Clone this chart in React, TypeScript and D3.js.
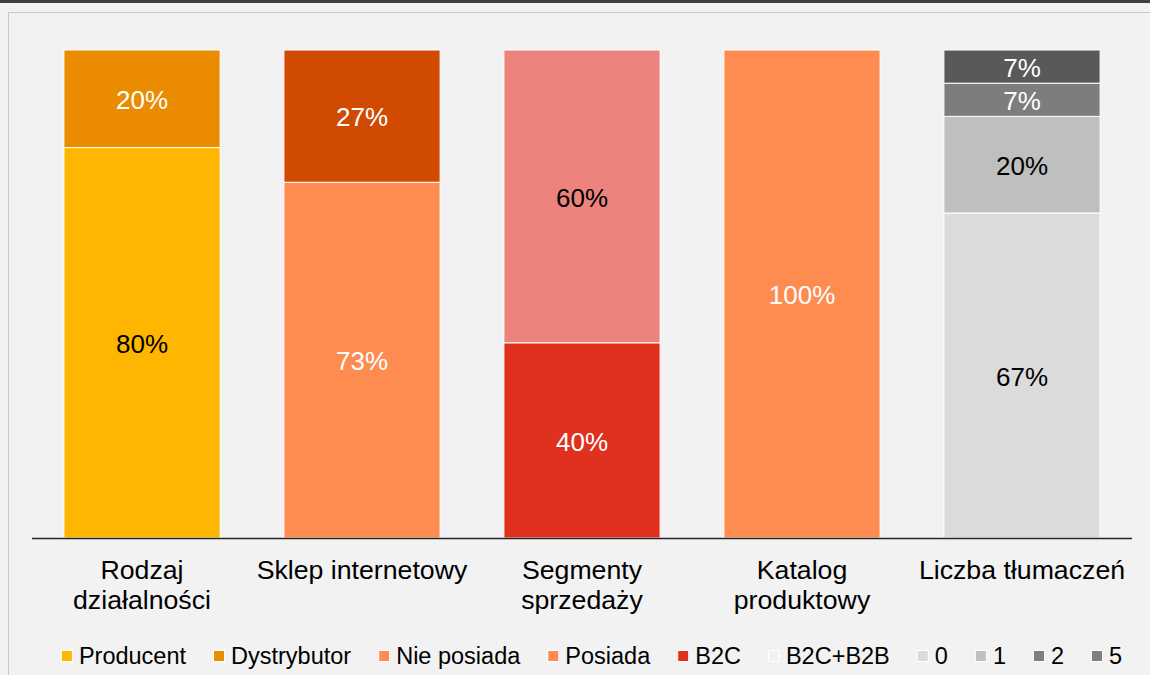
import { useEffect, useRef } from "react";
import * as d3 from "d3";

const categories = [
  ["Rodzaj", "działalności"],
  ["Sklep internetowy"],
  ["Segmenty", "sprzedaży"],
  ["Katalog", "produktowy"],
  ["Liczba tłumaczeń"],
];

// segments of each column, bottom to top
const rodzaj = [
  { name: "Producent", value: 80, color: "#FFB600", text: "#000" },
  { name: "Dystrybutor", value: 20, color: "#EB8C00", text: "#fff" },
];
const sklep = [
  { name: "Nie posiada", value: 72.9, color: "#FE8C50", text: "#fff" },
  { name: "Posiada", value: 27.1, color: "#D04A02", text: "#fff" },
];
const segmenty = [
  { name: "B2C", value: 40, color: "#E0301E", text: "#fff" },
  { name: "B2C+B2B", value: 60, color: "#EC837D", text: "#000" },
];
const katalog = [{ name: "Posiada", value: 100, color: "#FE8C50", text: "#fff" }];
const tlumaczenia = [
  { name: "0", value: 66.6, color: "#DBDBDB", text: "#000" },
  { name: "1", value: 19.8, color: "#BFBFBF", text: "#000" },
  { name: "2", value: 6.8, color: "#7D7D7D", text: "#fff" },
  { name: "5", value: 6.8, color: "#595959", text: "#fff" },
];
const columns = [rodzaj, sklep, segmenty, katalog, tlumaczenia];

const legendItems = [
  { name: "Producent", color: "#FFB600" },
  { name: "Dystrybutor", color: "#EB8C00" },
  { name: "Nie posiada", color: "#FE8C50" },
  { name: "Posiada", color: "#FE8C50" },
  { name: "B2C", color: "#E0301E" },
  { name: "B2C+B2B", color: "#F2F2F2" },
  { name: "0", color: "#DBDBDB" },
  { name: "1", color: "#BFBFBF" },
  { name: "2", color: "#7F7F7F" },
  { name: "5", color: "#7F7F7F" },
];

const FONT = "'Liberation Sans', Arial, sans-serif";

export default function App() {
  const svgRef = useRef<SVGSVGElement | null>(null);
  const width = 1150;
  const height = 675;

  useEffect(() => {
    if (!svgRef.current) return;
    const svg = d3.select(svgRef.current);
    svg.selectAll("*").remove();

    // background + frame
    svg.append("rect").attr("width", width).attr("height", height).attr("fill", "#F2F2F2");
    svg.append("rect").attr("width", width).attr("height", 3).attr("fill", "#404040");
    svg
      .append("rect")
      .attr("x", 8.5)
      .attr("y", 12.5)
      .attr("width", width + 20)
      .attr("height", height)
      .attr("fill", "none")
      .attr("stroke", "#C8C8C8");

    const labels = categories.map((c) => c.join(" "));
    const x = d3
      .scaleBand()
      .domain(labels)
      .range([32, 1132])
      .paddingInner(0.29)
      .paddingOuter(0.145);
    const y = d3.scaleLinear().domain([0, 100]).range([538, 50]);

    const g = svg.append("g");
    columns.forEach((segs, i) => {
      const x0 = x(labels[i]) || 0;
      let acc = 0;
      segs.forEach((s) => {
        const y0 = y(acc);
        const y1 = y(acc + s.value);
        acc += s.value;
        g.append("rect")
          .attr("x", x0)
          .attr("y", y1)
          .attr("width", x.bandwidth())
          .attr("height", y0 - y1)
          .attr("fill", s.color)
          .attr("stroke", "#fff")
          .attr("stroke-width", 1);
        g.append("text")
          .attr("x", x0 + x.bandwidth() / 2)
          .attr("y", (y0 + y1) / 2 + 1)
          .attr("dy", "0.35em")
          .attr("text-anchor", "middle")
          .attr("font-family", FONT)
          .attr("font-size", 26)
          .attr("fill", s.text)
          .text(`${Math.round(s.value)}%`);
      });
    });

    // baseline
    svg
      .append("line")
      .attr("x1", 32)
      .attr("x2", 1132)
      .attr("y1", 538.5)
      .attr("y2", 538.5)
      .attr("stroke", "#262626")
      .attr("stroke-width", 1.5);

    // category labels
    categories.forEach((lines, i) => {
      const cxl = (x(labels[i]) || 0) + x.bandwidth() / 2;
      const t = svg
        .append("text")
        .attr("x", cxl)
        .attr("y", 579)
        .attr("text-anchor", "middle")
        .attr("font-family", FONT)
        .attr("font-size", 26.7)
        .attr("fill", "#000");
      lines.forEach((l, j) => {
        t.append("tspan")
          .attr("x", cxl)
          .attr("dy", j === 0 ? 0 : 29.5)
          .text(l);
      });
    });

    // legend
    const gap = 27;
    const leg = svg.append("g");
    let cx = 0;
    legendItems.forEach((d) => {
      const item = leg.append("g").attr("transform", `translate(${cx},0)`);
      item
        .append("rect")
        .attr("x", 0.5)
        .attr("y", -5.5)
        .attr("width", 11)
        .attr("height", 11)
        .attr("fill", d.color)
        .attr("stroke", "#fff")
        .attr("stroke-width", 1);
      const t = item
        .append("text")
        .attr("x", 18)
        .attr("y", 0)
        .attr("dy", "0.35em")
        .attr("font-family", FONT)
        .attr("font-size", 23.5)
        .attr("fill", "#000")
        .text(d.name);
      const w = (t.node() as SVGTextElement).getComputedTextLength();
      cx += 18 + w + gap;
    });
    const total = cx - gap;
    leg.attr("transform", `translate(${591.5 - total / 2},656)`);
  }, []);

  return (
    <svg
      ref={svgRef}
      width={width}
      height={height}
      style={{ position: "absolute", left: 0, top: 0 }}
    />
  );
}
